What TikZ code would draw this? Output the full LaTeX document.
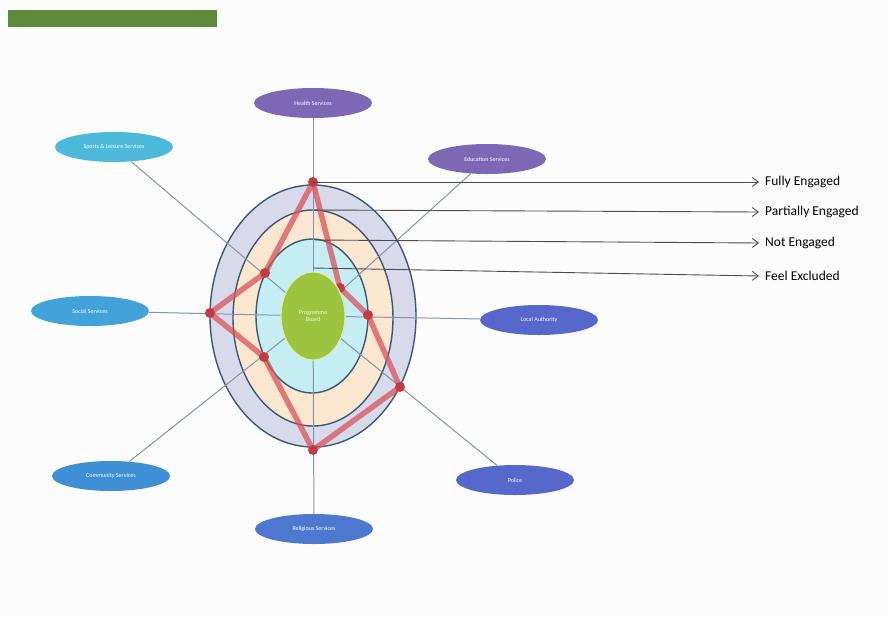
\documentclass[tikz,border=0pt]{standalone}
\usepackage{fontspec}
\setmainfont{Carlito}
\usetikzlibrary{shapes.geometric,arrows.meta}

\definecolor{barGreen}{HTML}{5E8A3C}
\definecolor{ringEdge}{HTML}{3A5878}
\definecolor{ringOuter}{HTML}{D8D9EA}
\definecolor{ringMid}{HTML}{FBE6D0}
\definecolor{ringIn}{HTML}{C4EEF4}
\definecolor{hubGreen}{HTML}{9CC43E}
\definecolor{spokeGrey}{HTML}{8495A6}
\definecolor{webRed}{HTML}{D9535A}
\definecolor{dotRed}{HTML}{C23A46}
\definecolor{svPurple}{HTML}{7D68B6}
\definecolor{svCyan}{HTML}{4CB9DA}
\definecolor{svSky}{HTML}{42A2DA}
\definecolor{svBlue}{HTML}{3F8FD6}
\definecolor{svRoyal}{HTML}{4E78D0}
\definecolor{svIndigo}{HTML}{5768CC}

\tikzset{
  service/.style={ellipse, fill=#1, text=white, minimum width=118pt, minimum height=30pt,
    inner sep=0pt, font=\fontsize{6}{7}\selectfont},
  spoke/.style={draw=spokeGrey, line width=1pt},
  level/.style={anchor=west, inner xsep=6pt, font=\fontsize{13.5}{15}\selectfont},
  levelarrow/.style={draw=black!70, line width=0.9pt, -{Straight Barb[length=6pt,width=9pt]}},
  webdot/.style={circle, fill=dotRed, inner sep=0pt, minimum size=10pt}
}

\begin{document}
\begin{tikzpicture}[x=1pt,y=-1pt]
	\useasboundingbox (0,0) rectangle (888,616);
	\fill[white!97!black!40!white] (0,0) rectangle (888,616);
	\fill[barGreen] (8,10) rectangle (217,27);

	\filldraw[fill=ringOuter, draw=ringEdge, line width=1.4pt] (313,316) ellipse [x radius=103, y radius=131];
	\filldraw[fill=ringMid, draw=ringEdge, line width=1.4pt] (313,318) ellipse [x radius=80, y radius=108];
	\filldraw[fill=ringIn, draw=ringEdge, line width=1.4pt] (312,316) ellipse [x radius=56, y radius=77];

	\node[service=svPurple] (health) at (313,103) {Health Services};
	\node[service=svPurple] (edu) at (487,159) {Education Services};
	\node[service=svCyan] (sports) at (114,147) {Sports \& Leisure Services};
	\node[service=svSky] (social) at (90,311) {Social Services};
	\node[service=svIndigo] (local) at (539,320) {Local Authority};
	\node[service=svBlue] (community) at (111,476) {Community Services};
	\node[service=svRoyal] (religious) at (314,529) {Religious Services};
	\node[service=svIndigo] (police) at (515,480) {Police};

	\node[ellipse, minimum width=64pt, minimum height=88pt, inner sep=0pt] (hubshape) at (313,316) {};
	\foreach \s in {health,edu,sports,social,local,community,religious,police}
		\draw[spoke] (\s) -- (hubshape);

	% engagement web
	\coordinate (wtop) at (313,182);
	\coordinate (wedu) at (340,288);
	\coordinate (wloc) at (368,315);
	\coordinate (wpol) at (400,387);
	\coordinate (wrel) at (313,450);
	\coordinate (wcom) at (264,357);
	\coordinate (wsoc) at (210,313);
	\coordinate (wspo) at (265,273);
	\draw[webRed, opacity=0.75, line width=5.5pt, line join=round]
		(wtop) -- (wedu) -- (wloc) -- (wpol) -- (wrel) -- (wcom) -- (wsoc) -- (wspo) -- cycle;
	\foreach \w in {wtop,wedu,wloc,wpol,wrel,wcom,wsoc,wspo}
		\node[webdot] at (\w) {};

	\node[ellipse, fill=hubGreen, draw=hubGreen!35!white, line width=1.2pt, minimum width=64pt, minimum height=88pt,
		inner sep=0pt, align=center, text=white!85!hubGreen, font=\fontsize{6}{7}\selectfont] (hub) at (313,316) {Programme\\Board};

	% levels
	\coordinate (lv1) at (313,182);
	\coordinate (lv2) at (315,210);
	\coordinate (lv3) at (315,240);
	\coordinate (lv4) at (313,268);
	\node[level] (fully) at (759,182) {Fully Engaged};
	\node[level] (partial) at (759,212) {Partially Engaged};
	\node[level] (noteng) at (759,243) {Not Engaged};
	\node[level] (excluded) at (759,276) {Feel Excluded};
	\draw[levelarrow] (lv1) -- (fully.west);
	\draw[levelarrow] (lv2) -- (partial.west);
	\draw[levelarrow] (lv3) -- (noteng.west);
	\draw[levelarrow] (lv4) -- (excluded.west);
\end{tikzpicture}
\end{document}
